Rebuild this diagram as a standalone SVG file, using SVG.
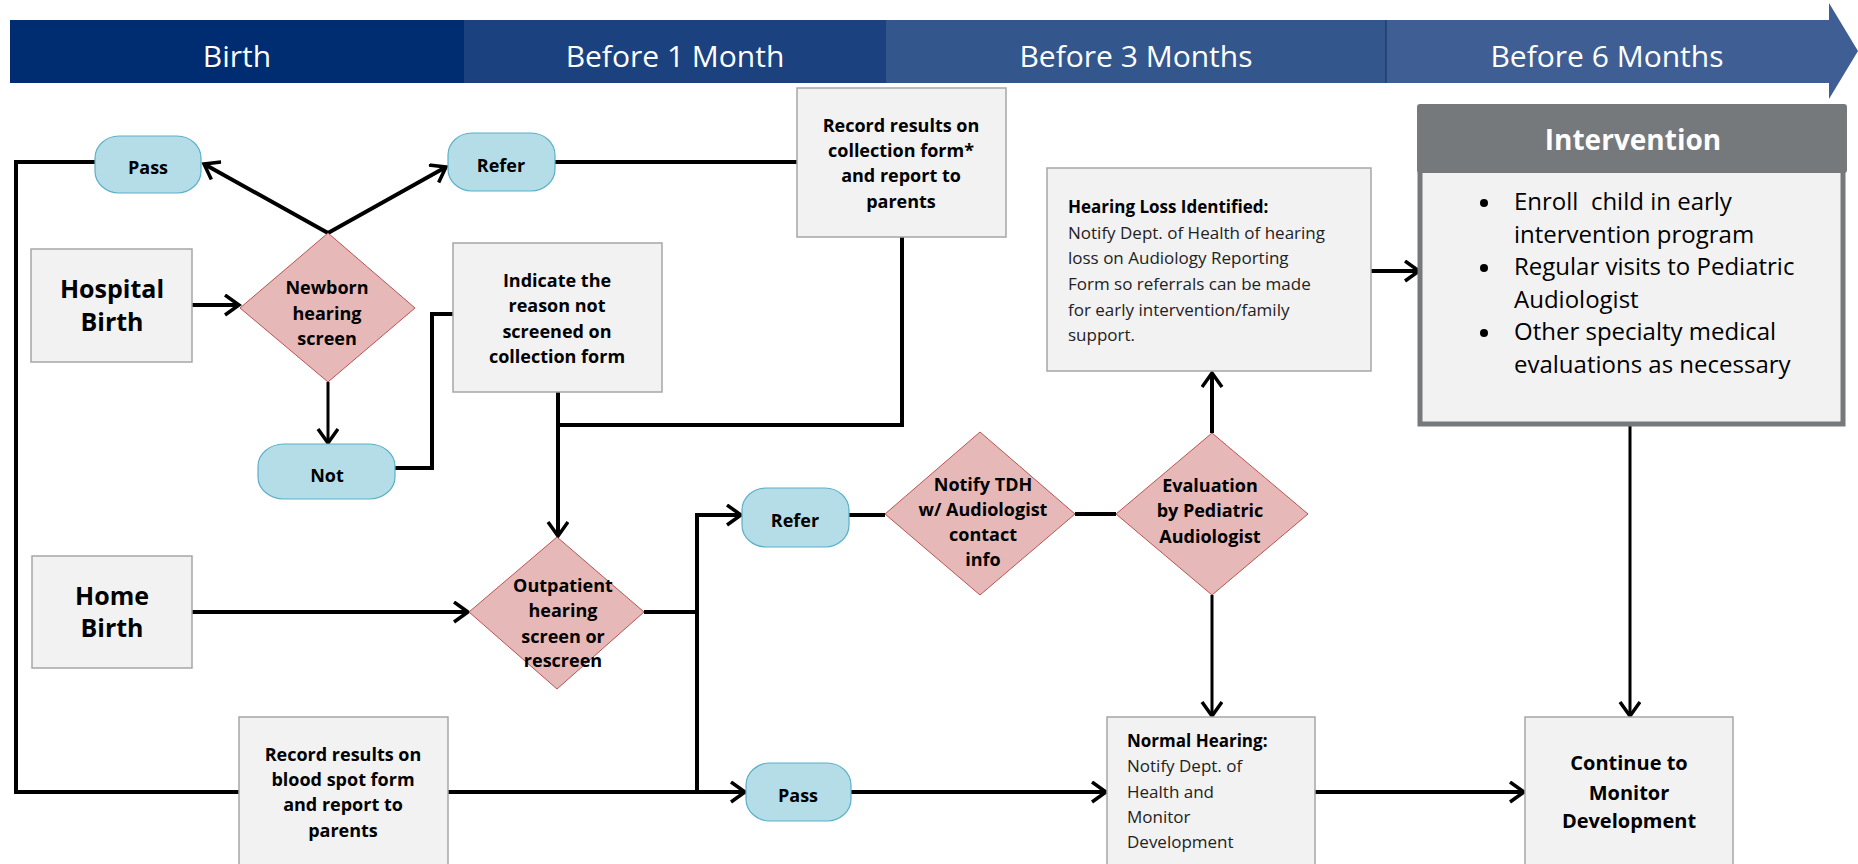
<svg xmlns="http://www.w3.org/2000/svg" width="1858" height="864" viewBox="0 0 1858 864">
<defs>
<marker id="ah" markerUnits="userSpaceOnUse" markerWidth="24" markerHeight="24" refX="15" refY="11" orient="auto" viewBox="0 0 24 24">
<path d="M1,1 L15,11 L1,21" fill="none" stroke="#000" stroke-width="3.5" stroke-linejoin="miter"/>
</marker>
</defs>
<style>
.box{fill:#F2F2F2;stroke:#A6A6A6;stroke-width:1.5}
.pill{fill:#B5DDE7;stroke:#5BB0C9;stroke-width:1.2}
.dia{fill:#E6B8B7;stroke:#B85450;stroke-width:1}
.ln{fill:none;stroke:#000;stroke-width:4}
.lnt{fill:none;stroke:#000;stroke-width:3}
.arr{marker-end:url(#ah)}
text{font-family:"Open Sans","Liberation Sans",sans-serif;fill:#000}
.b{font-weight:700;font-size:18px;text-anchor:middle}
.big{font-weight:700;font-size:25px;text-anchor:middle}
.r{font-size:17px;fill:#222}
.rb{font-size:17px;font-weight:700}
.band{font-size:30px;fill:#fff;text-anchor:middle}
</style>
<g id="timeline">
<rect x="10" y="20" width="455" height="63" fill="#002D72"/>
<rect x="464" y="20" width="423" height="63" fill="#1C417F"/>
<rect x="886" y="20" width="501" height="63" fill="#33578D"/>
<polygon points="1386,20 1829,20 1829,3 1858,51 1829,99 1829,83 1386,83" fill="#3F5F94"/>
<line x1="1386" y1="20" x2="1386" y2="83" stroke="#1F3E70" stroke-width="1.5"/>
<text class="band" x="237" y="67">Birth</text>
<text class="band" x="675" y="67">Before 1 Month</text>
<text class="band" x="1136" y="67">Before 3 Months</text>
<text class="band" x="1607" y="67">Before 6 Months</text>
</g>
<g id="connectors">
<polyline class="ln" points="95,162 16,162 16,792 239,792"/>
<line class="ln arr" x1="328" y1="233" x2="204" y2="164"/>
<line class="ln arr" x1="328" y1="233" x2="446" y2="167"/>
<line class="ln arr" x1="192" y1="305" x2="239" y2="305"/>
<line class="lnt arr" x1="328" y1="382" x2="328" y2="443"/>
<polyline class="ln" points="395,468 432,468 432,314 453,314"/>
<line class="ln" x1="555" y1="162" x2="797" y2="162"/>
<polyline class="ln" points="902,237 902,425 558,425"/>
<line class="ln arr" x1="558" y1="392" x2="558" y2="536"/>
<line class="ln arr" x1="192" y1="612" x2="468" y2="612"/>
<polyline class="ln" points="644,612 697,612"/>
<polyline class="ln arr" points="697,792 697,515 741,515"/>
<line class="ln arr" x1="448" y1="792" x2="745" y2="792"/>
<line class="ln" x1="849" y1="515" x2="885" y2="515"/>
<line class="ln" x1="1075" y1="514" x2="1116" y2="514"/>
<line class="ln arr" x1="1212" y1="433" x2="1212" y2="373"/>
<line class="lnt arr" x1="1212" y1="595" x2="1212" y2="716"/>
<line class="ln arr" x1="851" y1="792" x2="1106" y2="792"/>
<line class="ln arr" x1="1315" y1="792" x2="1524" y2="792"/>
<line class="ln arr" x1="1371" y1="271" x2="1419" y2="271"/>
<line class="lnt arr" x1="1630" y1="426" x2="1630" y2="716"/>
</g>
<g id="pass1">
<rect class="pill" x="95" y="136" width="106" height="57" rx="24" ry="22"/>
<text class="b" x="148" y="174">Pass</text>
</g>
<g id="refer1">
<rect class="pill" x="448" y="133" width="107" height="58" rx="24" ry="22"/>
<text class="b" x="501" y="172">Refer</text>
</g>
<g id="hospital-birth">
<rect class="box" x="31" y="249" width="161" height="113"/>
<text class="big" x="112" y="298">Hospital</text>
<text class="big" x="112" y="331">Birth</text>
</g>
<g id="newborn-screen">
<polygon class="dia" points="328,233 415,308 328,382 240,308"/>
<text class="b" x="327" y="294">Newborn</text>
<text class="b" x="327" y="320">hearing</text>
<text class="b" x="327" y="345">screen</text>
</g>
<g id="indicate">
<rect class="box" x="453" y="243" width="209" height="149"/>
<text class="b" x="557" y="287">Indicate the</text>
<text class="b" x="557" y="312">reason not</text>
<text class="b" x="557" y="338">screened on</text>
<text class="b" x="557" y="363">collection form</text>
</g>
<g id="not">
<rect class="pill" x="258" y="444" width="137" height="55" rx="26" ry="22"/>
<text class="b" x="327" y="482">Not</text>
</g>
<g id="record-collection">
<rect class="box" x="797" y="88" width="209" height="149"/>
<text class="b" x="901" y="132">Record results on</text>
<text class="b" x="901" y="157">collection form*</text>
<text class="b" x="901" y="182">and report to</text>
<text class="b" x="901" y="208">parents</text>
</g>
<g id="hearing-loss">
<rect class="box" x="1047" y="168" width="324" height="203"/>
<text class="rb" x="1068" y="213">Hearing Loss Identified:</text>
<text class="r" x="1068" y="239">Notify Dept. of Health of hearing</text>
<text class="r" x="1068" y="264">loss on Audiology Reporting</text>
<text class="r" x="1068" y="290">Form so referrals can be made</text>
<text class="r" x="1068" y="316">for early intervention/family</text>
<text class="r" x="1068" y="341">support.</text>
</g>
<g id="intervention">
<rect x="1420" y="165" width="423" height="259" fill="#F2F2F2" stroke="#76797C" stroke-width="5"/>
<rect x="1417" y="104" width="430" height="69" rx="3" fill="#76797C"/>
<text x="1633" y="150" font-size="28" font-weight="700" fill="#fff" text-anchor="middle" style="fill:#fff">Intervention</text>
<g>
<circle cx="1484" cy="203" r="4" fill="#000"/>
<circle cx="1484" cy="268" r="4" fill="#000"/>
<circle cx="1484" cy="333" r="4" fill="#000"/>
<text x="1514" y="210" style="font-size:24px;white-space:pre" xml:space="preserve">Enroll  child in early</text>
<text x="1514" y="243" style="font-size:24px">intervention program</text>
<text x="1514" y="275" style="font-size:24px">Regular visits to Pediatric</text>
<text x="1514" y="308" style="font-size:24px">Audiologist</text>
<text x="1514" y="340" style="font-size:24px">Other specialty medical</text>
<text x="1514" y="373" style="font-size:24px">evaluations as necessary</text>
</g>
</g>
<g id="home-birth">
<rect class="box" x="32" y="556" width="160" height="112"/>
<text class="big" x="112" y="605">Home</text>
<text class="big" x="112" y="637">Birth</text>
</g>
<g id="outpatient">
<polygon class="dia" points="557,537 644,612 557,689 469,612"/>
<text class="b" x="563" y="592">Outpatient</text>
<text class="b" x="563" y="617">hearing</text>
<text class="b" x="563" y="643">screen or</text>
<text class="b" x="563" y="667">rescreen</text>
</g>
<g id="record-bloodspot">
<rect class="box" x="239" y="717" width="209" height="160"/>
<text class="b" x="343" y="761">Record results on</text>
<text class="b" x="343" y="786">blood spot form</text>
<text class="b" x="343" y="811">and report to</text>
<text class="b" x="343" y="837">parents</text>
</g>
<g id="refer2">
<rect class="pill" x="742" y="488" width="107" height="59" rx="24" ry="22"/>
<text class="b" x="795" y="527">Refer</text>
</g>
<g id="pass2">
<rect class="pill" x="746" y="763" width="105" height="58" rx="24" ry="22"/>
<text class="b" x="798" y="802">Pass</text>
</g>
<g id="notify-tdh">
<polygon class="dia" points="980,432 1075,514 980,595 885,514"/>
<text class="b" x="983" y="491">Notify TDH</text>
<text class="b" x="983" y="516">w/ Audiologist</text>
<text class="b" x="983" y="541">contact</text>
<text class="b" x="983" y="566">info</text>
</g>
<g id="evaluation">
<polygon class="dia" points="1212,433 1308,514 1212,595 1116,514"/>
<text class="b" x="1210" y="492">Evaluation</text>
<text class="b" x="1210" y="517">by Pediatric</text>
<text class="b" x="1210" y="543">Audiologist</text>
</g>
<g id="normal-hearing">
<rect class="box" x="1107" y="717" width="208" height="160"/>
<text class="rb" x="1127" y="747">Normal Hearing:</text>
<text class="r" x="1127" y="772">Notify Dept. of</text>
<text class="r" x="1127" y="798">Health and</text>
<text class="r" x="1127" y="823">Monitor</text>
<text class="r" x="1127" y="848">Development</text>
</g>
<g id="continue">
<rect class="box" x="1525" y="717" width="208" height="160"/>
<text class="b" x="1629" y="770" style="font-size:20px">Continue to</text>
<text class="b" x="1629" y="800" style="font-size:20px">Monitor</text>
<text class="b" x="1629" y="828" style="font-size:20px">Development</text>
</g>
</svg>
